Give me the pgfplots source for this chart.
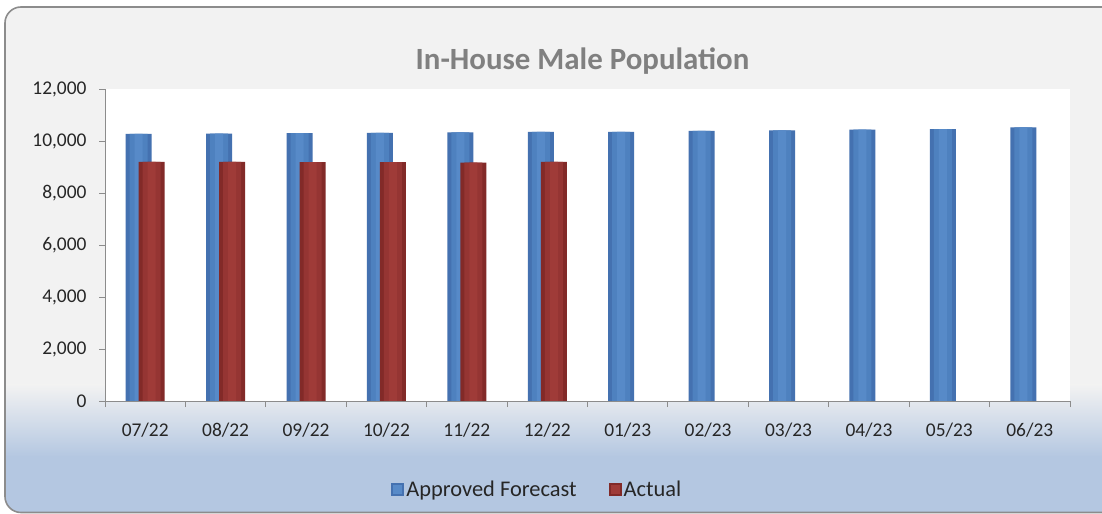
\documentclass[border=0pt]{standalone}
\usepackage{pgfplots}
\pgfplotsset{compat=1.18}
\usepackage{fontspec}
\setmainfont{Carlito}
\definecolor{bgrey}{HTML}{F2F2F2}
\definecolor{bblue}{HTML}{B4C7E1}
\definecolor{bedge}{HTML}{4471B0}
\definecolor{bmid}{HTML}{4E81BF}
\definecolor{bcore}{HTML}{578AC8}
\definecolor{redge}{HTML}{822A28}
\definecolor{rmid}{HTML}{953533}
\definecolor{rcore}{HTML}{9F3B38}
\definecolor{axgrey}{HTML}{8C8C8C}
\definecolor{txt}{HTML}{262626}
\definecolor{ttl}{HTML}{808080}
\pgfplotstableread{
x fc
0 10270
1 10280
2 10300
3 10310
4 10330
5 10350
6 10355
7 10385
8 10410
9 10435
10 10460
11 10525
}\forecast
\pgfplotstableread{
x act
0 9200
1 9200
2 9190
3 9190
4 9170
5 9200
}\actual
\begin{document}
\begin{tikzpicture}
\useasboundingbox (0,0) rectangle (1102bp,514bp);
\begin{scope}[x=1bp,y=1bp]
\clip (0,0) rectangle (1102,514);
\begin{scope}
\clip[rounded corners=16bp] (5,1.5) rectangle (1130,507);
\fill[bgrey] (0,0) rectangle (1130,514);
\shade[top color=bgrey, bottom color=bblue] (0,57) rectangle (1130,129);
\fill[bblue] (0,0) rectangle (1130,57.5);
\end{scope}
\draw[axgrey, line width=1.6bp, rounded corners=16bp] (5,1.5) rectangle (1130,507);
\end{scope}
\begin{axis}[
  at={(105bp,113bp)}, anchor=south west,
  scale only axis, width=965bp, height=312bp,
  xmin=-0.5, xmax=11.5, ymin=0, ymax=12000,
  axis lines*=left,
  axis line style={axgrey, line width=0.9bp},
  axis background/.style={fill=white},
  tick style={axgrey, line width=0.9bp},
  major tick length=6bp, tick align=outside,
  xtick={-0.5,0.5,...,11.5}, xticklabels={},
  extra x ticks={0,1,...,11},
  extra x tick labels={07/22,08/22,09/22,10/22,11/22,12/22,01/23,02/23,03/23,04/23,05/23,06/23},
  extra x tick style={major tick length=0pt, xticklabel style={yshift=-18bp}},
  ytick={0,2000,...,12000},
  scaled y ticks=false,
  yticklabel style={xshift=-9bp},
  /pgf/number format/.cd, 1000 sep={,}, assume math mode=true, /pgfplots/.cd,
  ticklabel style={font=\fontsize{19.5}{22}\selectfont, text=txt},
  title={In-House Male Population},
  title style={font=\fontsize{31}{34}\selectfont\bfseries, text=ttl, at={(0.4948,1.07)}, anchor=center},
  legend columns=2,
  legend style={draw=none, fill=none, at={(0.448,-0.285)}, anchor=center,
    font=\fontsize{22.5}{25}\selectfont, text=txt,
    /tikz/every even column/.append style={column sep=30bp}},
]
\addplot[ybar, bar width=26bp, bar shift=-6.5bp, draw=none, fill=bedge,
  legend image code/.code={\fill[bedge] (-2bp,-6bp) rectangle (11bp,7bp); \fill[bcore] (0bp,-4bp) rectangle (9bp,5bp);}]
  table[x=x, y=fc] {\forecast};
\addlegendentry{Approved Forecast}
\addplot[ybar, bar width=18bp, bar shift=-6.5bp, draw=none, fill=bmid, forget plot] table[x=x, y=fc] {\forecast};
\addplot[ybar, bar width=8bp, bar shift=-6.5bp, draw=none, fill=bcore, forget plot] table[x=x, y=fc] {\forecast};
\addplot[ybar, bar width=26bp, bar shift=6.5bp, draw=none, fill=redge,
  legend image code/.code={\fill[redge] (-2bp,-6bp) rectangle (11bp,7bp); \fill[rcore] (0bp,-4bp) rectangle (9bp,5bp);}]
  table[x=x, y=act] {\actual};
\addlegendentry{Actual}
\addplot[ybar, bar width=18bp, bar shift=6.5bp, draw=none, fill=rmid, forget plot] table[x=x, y=act] {\actual};
\addplot[ybar, bar width=8bp, bar shift=6.5bp, draw=none, fill=rcore, forget plot] table[x=x, y=act] {\actual};
\end{axis}
\end{tikzpicture}
\end{document}
